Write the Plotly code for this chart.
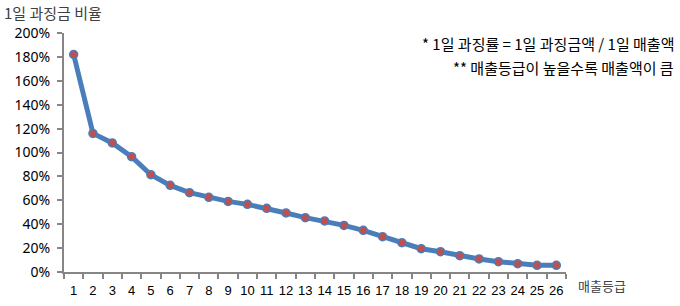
import plotly.graph_objects as go

grades = [str(i) for i in range(1, 27)]
ratio = [182, 116, 108, 96.5, 81.4, 72.5, 66.4, 62.5, 59.1, 56.6, 53.3, 49.4, 45.5,
         42.7, 39, 34.9, 29.6, 24.5, 19.5, 17, 13.7, 10.9, 8.6, 7, 5.6, 5.6]
yticks = list(range(0, 201, 20))
ytick_text = [f"{v}%" for v in yticks]

title_text = "1일 과징금 비율"
xtitle_text = "매출등급"
notes = ["* 1일 과징률 = 1일 과징금액 / 1일 매출액", "** 매출등급이 높을수록 매출액이 큼"]

fig = go.Figure()
fig.add_trace(go.Scatter(
    x=grades, y=ratio, mode="lines+markers",
    line=dict(color="#4A7EBB", width=5),
    marker=dict(color="#C0504D", size=8, line=dict(color="#4A7EBB", width=1.5)),
    cliponaxis=False, showlegend=False,
))

kfont = "Noto Sans CJK KR"
fig.update_layout(
    width=680, height=306,
    margin=dict(l=64, r=114, t=33, b=34),
    paper_bgcolor="white", plot_bgcolor="white",
    font=dict(family="Noto Sans, " + kfont, size=13, color="#000000"),
    xaxis=dict(
        type="category", range=[-0.5, 25.5],
        showline=True, linecolor="#868686", linewidth=2,
        ticks="outside", tickson="boundaries", ticklen=5, tickwidth=2, tickcolor="#868686",
        showgrid=False, zeroline=False, tickangle=0, automargin=False,
        tickfont=dict(size=13, family="Liberation Sans Narrow, Liberation Sans"),
        ticklabelstandoff=5,
    ),
    yaxis=dict(
        range=[0, 200], tickvals=yticks, ticktext=ytick_text,
        showline=True, linecolor="#868686", linewidth=2, automargin=False,
        ticks="outside", ticklen=5, tickwidth=2, tickcolor="#868686",
        showgrid=False, zeroline=False, tickfont=dict(size=14),
        ticklabelstandoff=4,
    ),
)

fig.add_annotation(text=title_text, xref="paper", yref="paper", x=-62/502, y=(272-12)/239,
                   xanchor="left", yanchor="middle", showarrow=False,
                   font=dict(family=kfont, size=15, color="#404040"))
fig.add_annotation(text=xtitle_text, xref="paper", yref="paper", x=1.02, y=-13/239,
                   xanchor="left", yanchor="middle", showarrow=False,
                   font=dict(family=kfont, size=13, color="#404040"))
fig.add_annotation(text=notes[0], xref="paper", yref="paper", x=1 + 110/502, y=(272-43)/239,
                   xanchor="right", yanchor="middle", showarrow=False,
                   font=dict(family=kfont, size=15, color="#000000"))
fig.add_annotation(text=notes[1], xref="paper", yref="paper", x=1 + 110/502, y=(272-67)/239,
                   xanchor="right", yanchor="middle", showarrow=False,
                   font=dict(family=kfont, size=15, color="#000000"))

fig.write_html("out.html")
